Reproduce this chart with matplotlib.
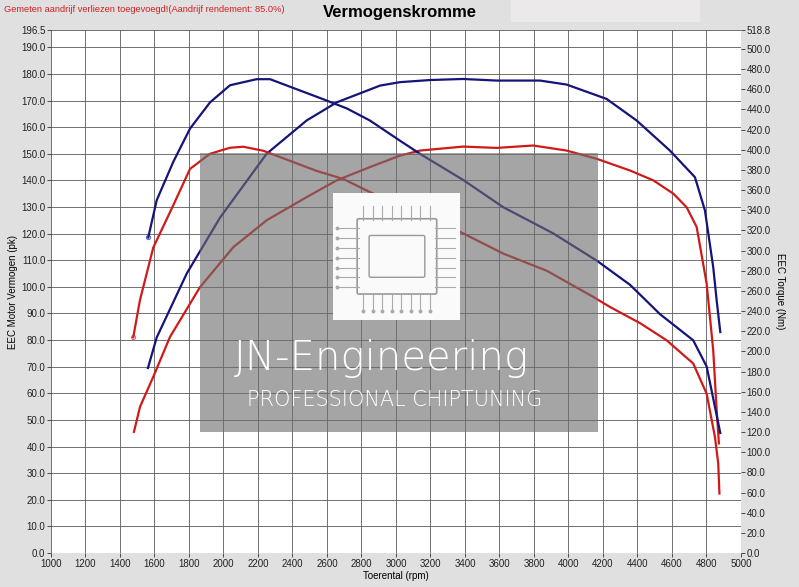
import numpy as np
import matplotlib
matplotlib.use('Agg')
import matplotlib.pyplot as plt
from matplotlib.patches import Rectangle, FancyBboxPatch

plt.rcParams['font.family'] = ['Liberation Sans', 'DejaVu Sans']

# tuned (blue) power, pk
rpm_pow_blue = [1562, 1613, 1700, 1787, 1980, 2250, 2482, 2656, 2907, 3023, 3197, 3388,
                3584, 3835, 3989, 4221, 4395, 4588, 4733, 4791, 4839, 4859, 4880]
pow_blue = [69.5, 81.0, 93.0, 105.0, 126.0, 150.0, 162.5, 169.3, 175.6, 176.9, 177.7, 178.1,
            177.5, 177.5, 176.0, 170.6, 162.5, 151.2, 141.2, 128.7, 107.4, 94.9, 83.0]

# tuned (blue) torque, Nm
rpm_tq_blue = [1564, 1613, 1709, 1806, 1922, 2038, 2192, 2270, 2425, 2580, 2715, 2849, 3023,
               3139, 3390, 3622, 3912, 4164, 4357, 4530, 4723, 4801, 4868, 4880]
tq_blue = [313, 350, 388, 421, 447, 464, 470, 470, 460, 450, 441, 429, 409,
           396, 370, 343, 317, 290, 266, 237, 211, 185, 129, 119]

# stock (red) power, pk
rpm_pow_red = [1481, 1516, 1593, 1690, 1864, 2057, 2250, 2482, 2656, 2849, 3023, 3139,
               3390, 3584, 3796, 3989, 4164, 4357, 4492, 4608, 4685, 4743, 4801, 4839,
               4859, 4872]
pow_red = [45.5, 54.9, 66.2, 81.2, 99.9, 114.9, 125.0, 133.7, 140.0, 145.0, 149.3, 151.2,
           152.7, 152.2, 153.1, 151.2, 148.1, 143.7, 140.0, 135.0, 129.9, 122.5, 101.2, 76.2,
           53.7, 41.2]

# stock (red) torque, Nm
rpm_tq_red = [1477, 1516, 1593, 1709, 1806, 1922, 2038, 2115, 2231, 2386, 2540, 2695, 2849,
              3023, 3139, 3390, 3622, 3874, 4144, 4241, 4415, 4569, 4723, 4801, 4849, 4868,
              4875]
tq_red = [214, 251, 303, 345, 381, 396, 402, 403, 399, 389, 379, 371, 358,
          345, 337, 317, 297, 280, 254, 244, 228, 211, 188, 158, 115, 89, 59]

left_ticks = list(np.arange(0, 191, 10)) + [196.5]
right_ticks = list(np.arange(0, 501, 20)) + [518.8]
x_ticks = list(range(1000, 5001, 200))

BLUE = '#14147a'
RED = '#d01a1a'

fig = plt.figure(figsize=(7.99, 5.87), dpi=100, facecolor='#e0e0e0')
ax = fig.add_axes([0.0638, 0.0579, 0.8636, 0.891])
ax2 = ax.twinx()
ax.set_facecolor('white')

ax.set_xlim(1000, 5000)
ax.set_ylim(0, 196.5)
ax2.set_ylim(0, 518.8)

ax.set_xticks(x_ticks)
ax.set_yticks(left_ticks)
ax.set_yticklabels(['%.1f' % v for v in left_ticks])
ax2.set_yticks(right_ticks)
ax2.set_yticklabels(['%.1f' % v for v in right_ticks])

for a in (ax, ax2):
    for s in a.spines.values():
        s.set_visible(False)
ax.tick_params(axis='both', labelsize=7, length=3, width=0.6, color='#333333', pad=1,
               labelcolor='#222222')
ax2.tick_params(axis='y', labelsize=7, length=3, width=0.6, color='#333333', pad=1,
                labelcolor='#222222')

ax.grid(True, color='#5a5a5a', lw=0.6)
ax.set_axisbelow(True)

ax.plot(rpm_pow_blue, pow_blue, color=BLUE, lw=1.6, zorder=3)
ax2.plot(rpm_tq_blue, tq_blue, color=BLUE, lw=1.6, zorder=3)
ax2.plot(rpm_tq_blue[:1], tq_blue[:1], 'o', ms=3, mfc='none', mec='#6070c0', mew=0.8)
ax.plot(rpm_pow_red, pow_red, color=RED, lw=1.6, zorder=3)
ax2.plot(rpm_tq_red, tq_red, color=RED, lw=1.6, zorder=3)
ax2.plot(rpm_tq_red[:1], tq_red[:1], 'o', ms=3, mfc='none', mec='#e07070', mew=0.8)

ax.set_xlabel('Toerental (rpm)', fontsize=7, labelpad=2)
ax.set_ylabel('EEC Motor Vermogen (pk)', fontsize=7, labelpad=2)
ax2.set_ylabel('EEC Torque (Nm)', fontsize=7, rotation=-90, labelpad=10)

fig.text(0.005, 0.992, 'Gemeten aandrijf verliezen toegevoegd!(Aandrijf rendement: 85.0%)',
         color='#d02020', fontsize=6.7, va='top', ha='left')
fig.text(0.50, 0.992, 'Vermogenskromme', fontsize=12, fontweight='bold', ha='center', va='top')
fig.patches.append(Rectangle((0.64, 0.962), 0.236, 0.038, transform=fig.transFigure,
                             facecolor='#ebe9ea', edgecolor='none'))

# watermark
wm = fig.add_axes([0.2503, 0.264, 0.498, 0.475], zorder=10)
wm.set_xlim(0, 1)
wm.set_ylim(0, 1)
wm.axis('off')
wm.add_patch(Rectangle((0, 0), 1, 1, facecolor='#6e6e6e', alpha=0.62, edgecolor='none'))
wm.add_patch(Rectangle((0.334, 0.401), 0.319, 0.456, facecolor='#fafafa', edgecolor='none'))
wm.add_patch(FancyBboxPatch((0.40, 0.50), 0.19, 0.26, boxstyle='round,pad=0.005',
                            facecolor='none', edgecolor='#999999', lw=1.2))
wm.add_patch(FancyBboxPatch((0.43, 0.56), 0.13, 0.14, boxstyle='round,pad=0.005',
                            facecolor='none', edgecolor='#999999', lw=1.0))
for k in range(8):
    xx = 0.41 + k * 0.024
    wm.plot([xx, xx], [0.76, 0.81], color='#aaaaaa', lw=0.8)
    wm.plot([xx, xx], [0.44, 0.50], color='#aaaaaa', lw=0.8)
    wm.plot([xx], [0.435], 'o', ms=1.8, color='#aaaaaa')
for k in range(7):
    yy = 0.52 + k * 0.035
    wm.plot([0.35, 0.40], [yy, yy], color='#aaaaaa', lw=0.8)
    wm.plot([0.59, 0.64], [yy, yy], color='#aaaaaa', lw=0.8)
    wm.plot([0.345], [yy], 'o', ms=1.8, color='#aaaaaa')
wm.text(0.455, 0.265, 'JN-Engineering', color='white', fontsize=29, fontweight='light',
        family='DejaVu Sans', ha='center', va='center')
wm.text(0.49, 0.115, 'PROFESSIONAL CHIPTUNING', color='white', fontsize=15,
        fontweight='light', family='DejaVu Sans', ha='center', va='center')

fig.savefig('out.png', dpi=100, facecolor=fig.get_facecolor())
